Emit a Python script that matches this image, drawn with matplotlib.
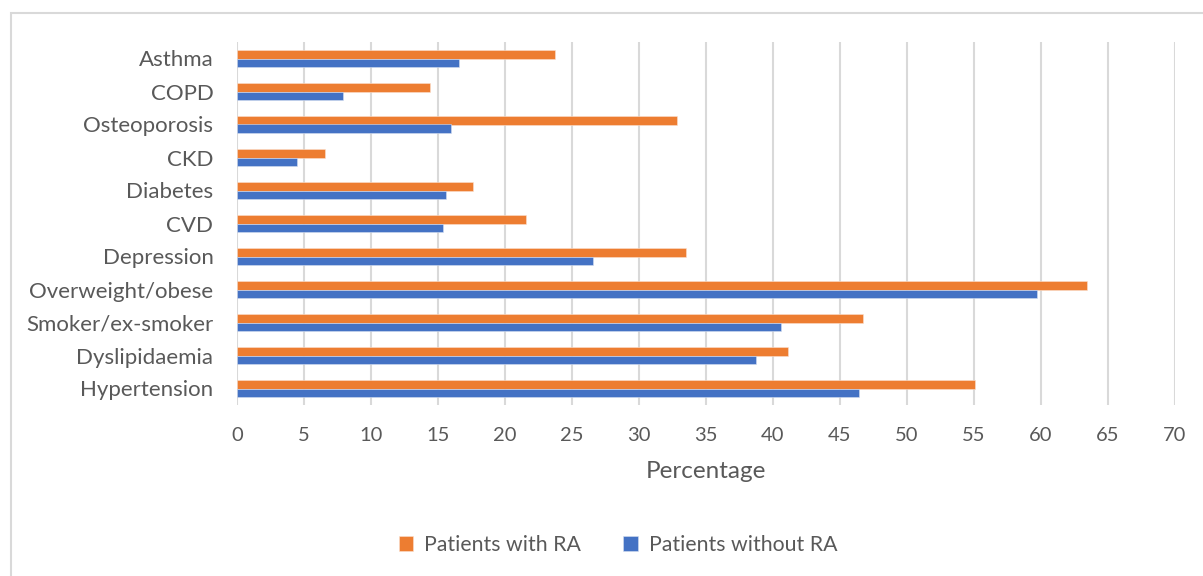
import matplotlib.pyplot as plt
import numpy as np
from matplotlib.patches import Rectangle

# comorbidity prevalence, bottom category first
conditions = ['Hypertension', 'Dyslipidaemia', 'Smoker/ex-smoker', 'Overweight/obese',
              'Depression', 'CVD', 'Diabetes', 'CKD', 'Osteoporosis', 'COPD', 'Asthma']
with_ra = [55.1, 41.1, 46.7, 63.4, 33.5, 21.6, 17.6, 6.6, 32.8, 14.4, 23.7]
without_ra = [46.4, 38.7, 40.6, 59.7, 26.6, 15.4, 15.6, 4.5, 16.0, 7.9, 16.6]
xticks = list(range(0, 75, 5))

plt.rcParams['font.family'] = ['Lato', 'DejaVu Sans']
grey = '#595959'
orange = '#ED7D31'
blue = '#4472C4'

fig = plt.figure(figsize=(12.03, 5.76), dpi=100)
ax = fig.add_axes([237 / 1203, 1 - 405 / 576, 938 / 1203, 363 / 576])

# chart area border
fig.patches.append(Rectangle((11 / 1203, -0.1), 1.2, 1 - 13 / 576 + 0.1,
                             transform=fig.transFigure, fill=False,
                             edgecolor='#d9d9d9', linewidth=1.5))

y = np.arange(len(conditions))
h = 0.26
ax.barh(y + h / 2, with_ra, height=h, color=orange, edgecolor='#fbe0cf',
        linewidth=0.4, label='Patients with RA', zorder=3)
ax.barh(y - h / 2, without_ra, height=h, color=blue, edgecolor='#d5def0',
        linewidth=0.4, label='Patients without RA', zorder=3)

ax.set_xlim(0, 70)
ax.set_ylim(-0.5, len(conditions) - 0.5)
ax.set_xticks(xticks)
ax.set_yticks(y)
ax.set_yticklabels(conditions)
ax.grid(axis='x', color='#d9d9d9', linewidth=1.5, zorder=0)
for s in ax.spines.values():
    s.set_visible(False)
ax.tick_params(axis='both', length=0, colors=grey, labelsize=14.5)
ax.tick_params(axis='x', pad=16)
ax.tick_params(axis='y', pad=17, labelsize=16)
ax.set_xlabel('Percentage', color=grey, fontsize=17.5, labelpad=12)

fig.legend(loc='center', bbox_to_anchor=(618 / 1203, 1 - 545 / 576), ncol=2,
           frameon=False, fontsize=15.3, labelcolor=grey, handlelength=0.7,
           handleheight=0.7, columnspacing=2.0, handletextpad=0.5)

plt.savefig('out.png', dpi=100)
